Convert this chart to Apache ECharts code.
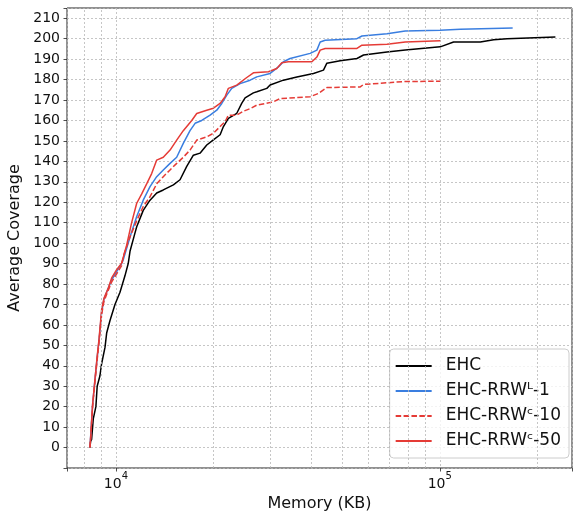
<!DOCTYPE html>
<html>
<head>
<meta charset="utf-8">
<script src="https://cdn.jsdelivr.net/npm/echarts@6/dist/echarts.min.js"></script>
<style>
  html, body { margin: 0; padding: 0; background: #fff; }
  #chart { width: 574px; height: 512px; }
</style>
</head>
<body>
<div id="chart"></div>
<script>
// series names
const names = ['EHC', 'EHC-RRW\u1D38-1', 'EHC-RRW\u1D9C-10', 'EHC-RRW\u1D9C-50']

// [memory KB, average coverage]
const ehc = [
  [8310, 0], [8350, 3], [8410, 4], [8510, 14], [8670, 20], [8750, 30], [8920, 35], [9030, 41],
  [9250, 49], [9360, 56], [9580, 62], [9930, 70], [10290, 76], [10660, 84], [10910, 90], [11050, 96],
  [11450, 105], [11590, 108], [12140, 116], [12740, 121], [13360, 124.5], [14000, 126], [15040, 128.5],
  [15770, 131], [16540, 137.5], [17340, 143], [18180, 144], [19070, 148], [19990, 150.5], [20970, 153],
  [21470, 157], [22240, 161], [23610, 163.5], [24470, 168.5], [25050, 171], [26570, 173.5], [27220, 174],
  [29230, 175.7], [29920, 177.3], [32890, 179.7], [36190, 181.3], [40730, 183], [43730, 184.6],
  [44800, 188], [49250, 189.2], [55480, 190.3], [58150, 192], [68680, 193.5], [78230, 194.4],
  [100300, 196], [110300, 198.4], [133400, 198.4], [146700, 199.5], [161400, 200], [227500, 200.8]
]
const rrwL1 = [
  [8310, 0], [8350, 5], [8470, 21], [8610, 33], [8750, 44], [8860, 52], [9030, 66], [9180, 72.5],
  [9470, 78], [9700, 82], [10050, 86], [10410, 90], [10530, 91.8], [11050, 103], [11590, 113],
  [12140, 121], [12740, 127.6], [13360, 132.5], [14000, 135.8], [14690, 139], [15400, 142],
  [16140, 148.8], [16930, 155], [17550, 158.6], [18400, 160], [19530, 162.6], [20480, 165],
  [21220, 168.3], [21990, 172.4], [22780, 175.7], [24170, 178], [25960, 179.7], [27220, 181.3],
  [29920, 183], [31740, 186.2], [32890, 188.7], [34500, 190.3], [39780, 192.8], [41730, 194.4],
  [42720, 198.4], [44260, 199.2], [55480, 200], [57480, 201.3], [68680, 202.4], [78230, 203.7],
  [100300, 204.1], [115700, 204.6], [167900, 205.2]
]
const rrwC10 = [
  [8310, 0], [8350, 4], [8470, 20], [8610, 32], [8750, 43], [8860, 51], [9030, 65], [9180, 71.5],
  [9470, 77], [9700, 81], [10050, 85], [10410, 89], [10530, 93.4], [11050, 103], [11590, 111],
  [12140, 117.9], [12740, 122.7], [13360, 129], [14000, 132.5], [14690, 135.8], [15400, 139],
  [16140, 142], [16930, 145.5], [17760, 150.4], [19070, 152], [19990, 153.7], [20970, 157],
  [21730, 159.4], [22240, 162.6], [23610, 162.6], [24750, 164.5], [25960, 165.8], [27220, 167.5],
  [30630, 169.1], [32130, 170.7], [39780, 171.6], [42200, 173.2], [44800, 176.1], [56800, 176.4],
  [58150, 177.6], [77280, 179], [100300, 179.2]
]
const rrwC50 = [
  [8310, 0], [8350, 4.7], [8470, 21], [8610, 33], [8750, 44.6], [8860, 52.7], [9030, 67.4],
  [9180, 73], [9470, 78], [9700, 83], [10050, 87], [10410, 90.2], [10790, 99], [11180, 110],
  [11590, 119.5], [12000, 124], [12440, 129], [12890, 134], [13360, 140.6], [14000, 142],
  [14690, 145.5], [15400, 150.4], [16140, 155], [17140, 160], [17760, 163.4], [19070, 165],
  [19990, 166], [20970, 168.3], [21730, 171.6], [22240, 175.7], [23610, 177.3], [25350, 181],
  [26570, 183.3], [29570, 183.8], [31380, 185.4], [32520, 188.2], [34080, 188.7], [40270, 188.7],
  [41730, 191], [42720, 194.4], [44260, 195.2], [55480, 195.2], [57480, 196.8], [68680, 197.3],
  [78230, 198.4], [100300, 199]
]

// minor log gridlines
const minorGrid = [8000, 9000, 20000, 30000, 40000, 50000, 60000, 70000, 80000, 90000, 200000]

const font = 'DejaVu Sans'
const gridStyle = { color: '#b8b8b8', type: [2, 2], width: 0.8 }

const chart = echarts.init(document.getElementById('chart'))

function lineSeries(name, data, color, dashed) {
  return {
    name: name,
    type: 'line',
    data: data,
    symbol: 'none',
    showSymbol: false,
    z: 3,
    itemStyle: { color: color },
    lineStyle: { color: color, width: 1.5, type: dashed ? [5.5, 2.4] : 'solid' }
  }
}

const option = {
  animation: false,
  textStyle: { fontFamily: font },
  grid: {
    left: 67, right: 2, top: 8, bottom: 44,
    outerBoundsMode: 'none',
    containLabel: false,
    show: true, borderColor: '#222', borderWidth: 1, backgroundColor: 'transparent'
  },
  legend: {
    data: names,
    orient: 'vertical',
    right: 5,
    bottom: 54,
    itemWidth: 36,
    itemHeight: 14,
    itemGap: 7,
    padding: [8, 8, 8, 5],
    itemStyle: { opacity: 0 },
    backgroundColor: 'rgba(255,255,255,0.8)',
    borderColor: '#cccccc',
    borderWidth: 1,
    borderRadius: 4,
    textStyle: { fontFamily: font, fontSize: 17, color: '#111', lineHeight: 18, padding: [0, 0, 0, 9] }
  },
  xAxis: {
    type: 'log',
    logBase: 10,
    min: 7060,
    max: 256000,
    name: 'Memory (KB)',
    nameLocation: 'middle',
    nameGap: 25,
    nameTextStyle: { fontFamily: font, fontSize: 16, color: '#111' },
    axisLine: { show: false, onZero: false },
    axisTick: { show: true, length: 3.5, lineStyle: { color: '#222', width: 0.8 } },
    splitLine: { show: true, lineStyle: gridStyle },
    axisLabel: {
      margin: 3,
      color: '#111',
      formatter: function (v) {
        const p = Math.log10(v)
        if (Math.abs(p - Math.round(p)) > 1e-6) return ''
        return '{b|10}{s|' + Math.round(p) + '}'
      },
      rich: {
        b: { fontFamily: font, fontSize: 14, color: '#111', lineHeight: 20, verticalAlign: 'bottom' },
        s: { fontFamily: font, fontSize: 10, color: '#111', lineHeight: 10, verticalAlign: 'top' }
      }
    }
  },
  yAxis: {
    type: 'value',
    min: -10,
    max: 215,
    interval: 10,
    name: 'Average Coverage',
    nameLocation: 'middle',
    nameGap: 40,
    nameTextStyle: { fontFamily: font, fontSize: 16, color: '#111' },
    axisLine: { show: false, onZero: false },
    axisTick: { show: true, length: 3.5, lineStyle: { color: '#222', width: 0.8 } },
    splitLine: { show: true, lineStyle: gridStyle },
    axisLabel: {
      margin: 7,
      fontFamily: font,
      fontSize: 14,
      color: '#111',
      formatter: function (v) { return (v < 0 || v > 210) ? '' : String(v) }
    }
  },
  series: [
    {
      type: 'line',
      data: [],
      z: 1,
      silent: true,
      markLine: {
        symbol: 'none',
        silent: true,
        animation: false,
        label: { show: false },
        lineStyle: gridStyle,
        data: minorGrid.map(v => ({ xAxis: v }))
      }
    },
    lineSeries(names[0], ehc, '#000000', false),
    lineSeries(names[1], rrwL1, '#3a7ee0', false),
    lineSeries(names[2], rrwC10, '#e53b36', true),
    lineSeries(names[3], rrwC50, '#e53b36', false)
  ]
}

chart.setOption(option)
</script>
</body>
</html>
